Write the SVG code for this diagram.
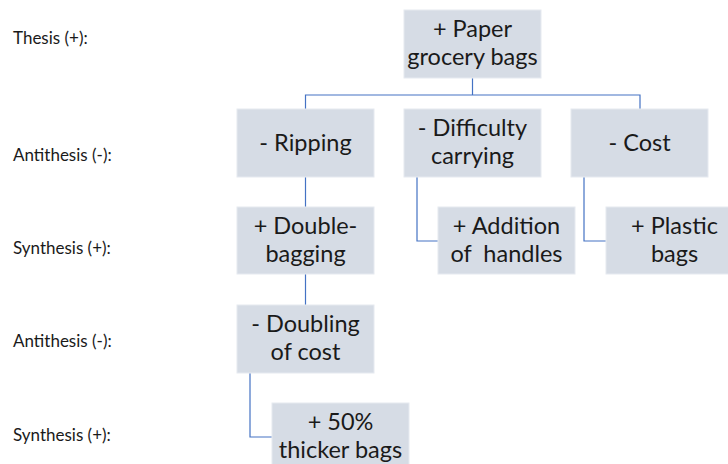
<svg xmlns="http://www.w3.org/2000/svg" width="728" height="464" viewBox="0 0 728 464">
<style>
.box{fill:#D6DCE5;stroke:#E6EAF0;stroke-width:1}
.t{font-family:Lato,"Open Sans","Liberation Sans",sans-serif;font-size:23.5px;fill:#1a1a1a;text-anchor:middle}
.lbl{font-family:Lato,"Open Sans","Liberation Sans",sans-serif;font-size:17px;fill:#1a1a1a}
.c{fill:none;stroke:#4472C4;stroke-width:1.2}
</style>
<rect width="728" height="464" fill="#fff"/>
<g id="labels">
<text class="lbl" x="13" y="44">Thesis (+):</text>
<text class="lbl" x="13" y="161">Antithesis (-):</text>
<text class="lbl" x="13" y="254">Synthesis (+):</text>
<text class="lbl" x="13" y="347">Antithesis (-):</text>
<text class="lbl" x="13" y="441">Synthesis (+):</text>
</g>
<g id="connectors">
<path class="c" d="M472.5 78V95M305.5 109V95H640V109"/>
<path class="c" d="M305.5 177V207"/>
<path class="c" d="M417 177V241H438"/>
<path class="c" d="M584 177V241H606"/>
<path class="c" d="M305.5 274V305"/>
<path class="c" d="M250 373V437H272"/>
</g>
<g id="n-paper"><rect class="box" x="404" y="10" width="137" height="68"/><text class="t"><tspan x="472.5" y="37">+ Paper</tspan><tspan x="472.5" y="65">grocery bags</tspan></text></g>
<g id="n-ripping"><rect class="box" x="237" y="109" width="137" height="68"/><text class="t" x="305.5" y="151">- Ripping</text></g>
<g id="n-difficulty"><rect class="box" x="404" y="109" width="137" height="68"/><text class="t"><tspan x="472.5" y="136">- Difficulty</tspan><tspan x="472.5" y="164">carrying</tspan></text></g>
<g id="n-cost"><rect class="box" x="571" y="109" width="137" height="68"/><text class="t" x="639.5" y="151">- Cost</text></g>
<g id="n-double"><rect class="box" x="237" y="207" width="137" height="67"/><text class="t"><tspan x="305.5" y="234">+ Double-</tspan><tspan x="305.5" y="262">bagging</tspan></text></g>
<g id="n-handles"><rect class="box" x="438" y="207" width="137" height="67"/><text class="t" style="white-space:pre"><tspan x="506.5" y="234">+ Addition</tspan><tspan x="506.5" y="262">of  handles</tspan></text></g>
<g id="n-plastic"><rect class="box" x="606" y="207" width="137" height="67"/><text class="t"><tspan x="674.5" y="234">+ Plastic</tspan><tspan x="674.5" y="262">bags</tspan></text></g>
<g id="n-doubling"><rect class="box" x="237" y="305" width="137" height="68"/><text class="t"><tspan x="305.5" y="332">- Doubling</tspan><tspan x="305.5" y="360">of cost</tspan></text></g>
<g id="n-thicker"><rect class="box" x="272" y="403" width="137" height="68"/><text class="t"><tspan x="340.5" y="430">+ 50%</tspan><tspan x="340.5" y="458">thicker bags</tspan></text></g>
</svg>
